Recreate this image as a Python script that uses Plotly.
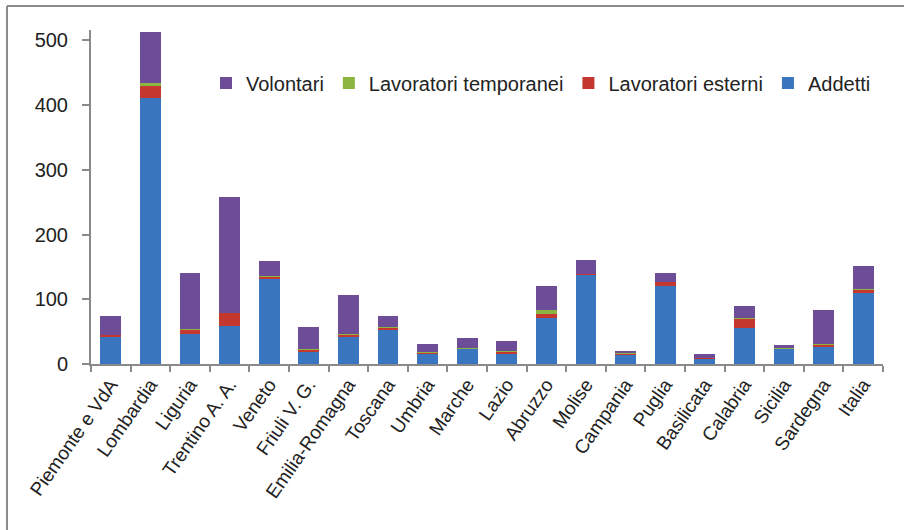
import plotly.graph_objects as go

regioni = ["Piemonte e VdA", "Lombardia", "Liguria", "Trentino A. A.", "Veneto",
           "Friuli V. G.", "Emilia-Romagna", "Toscana", "Umbria", "Marche", "Lazio",
           "Abruzzo", "Molise", "Campania", "Puglia", "Basilicata", "Calabria",
           "Sicilia", "Sardegna", "Italia"]

addetti = [41, 411, 47, 59, 131, 19, 43, 53, 16, 23.5, 15, 70.5, 138, 15, 121, 8, 56, 23.5, 27, 109]
esterni = [4, 18, 6, 20, 4, 3, 2.5, 3, 2, 1, 4.5, 7.5, 1.5, 1, 6, 1.5, 14, 0.5, 3, 6]
temporanei = [0.5, 4.5, 0.5, 0.5, 0.5, 0.5, 1.5, 1.5, 0.5, 0.5, 0.5, 6, 0, 0.3, 0.3, 0.3, 1.7, 0.3, 0.5, 1.5]
volontari = [28, 80, 87, 179, 24, 35, 60, 17, 13, 14.5, 15, 37, 21.5, 4.5, 14, 6, 18, 4.5, 52.5, 35.5]

y_ticks = [0, 100, 200, 300, 400, 500]

series = [
    ("Addetti", addetti, "#3a75bf"),
    ("Lavoratori esterni", esterni, "#c4382f"),
    ("Lavoratori temporanei", temporanei, "#8bb440"),
    ("Volontari", volontari, "#6d4d98"),
]

fig = go.Figure()
for name, vals, col in series:
    fig.add_trace(go.Bar(x=regioni, y=vals, name=name, marker_color=col,
                         marker_line_width=0))

W, H = 904, 530
L, R, T, B = 91, 21, 30, 166
pw, ph = W - L - R, H - T - B

font_main = "Liberation Sans, Arial, sans-serif"
axis_grey = "#8a8a8a"

fig.update_layout(
    width=W, height=H,
    margin=dict(l=L, r=R, t=T, b=B, pad=0),
    barmode="stack", bargap=0.47,
    plot_bgcolor="white", paper_bgcolor="white",
    font=dict(family=font_main, size=20, color="#222222"),
    legend=dict(orientation="h", traceorder="reversed",
                x=(206 - L) / pw, y=(364 - 83) / ph, xanchor="left", yanchor="middle",
                font=dict(size=20, family=font_main), bgcolor="rgba(0,0,0,0)",
                itemwidth=30, tracegroupgap=0),
    xaxis=dict(showline=True, linecolor=axis_grey, linewidth=2,
               ticks="outside", tickson="boundaries", ticklen=6,
               tickcolor=axis_grey, tickwidth=2, tickangle=-55,
               tickfont=dict(size=19, family=font_main), showgrid=False),
    yaxis=dict(range=[0, 516], tickvals=y_ticks, showline=True, linecolor=axis_grey,
               linewidth=2, ticks="outside", ticklen=7, tickcolor=axis_grey,
               tickwidth=2, showgrid=False, zeroline=False, ticklabelstandoff=10,
               tickfont=dict(size=20, family=font_main, color="#222222")),
)

# outer chart frame (top and left edges)
fx0 = (7 - L) / pw
fy_top = (364 - 6) / ph
fig.add_shape(type="line", xref="paper", yref="paper", x0=fx0, x1=1.2,
              y0=fy_top, y1=fy_top, line=dict(color="#8c8c8c", width=2))
fig.add_shape(type="line", xref="paper", yref="paper", x0=fx0, x1=fx0,
              y0=fy_top, y1=-0.6, line=dict(color="#8c8c8c", width=2))

fig.write_html("out.html")
